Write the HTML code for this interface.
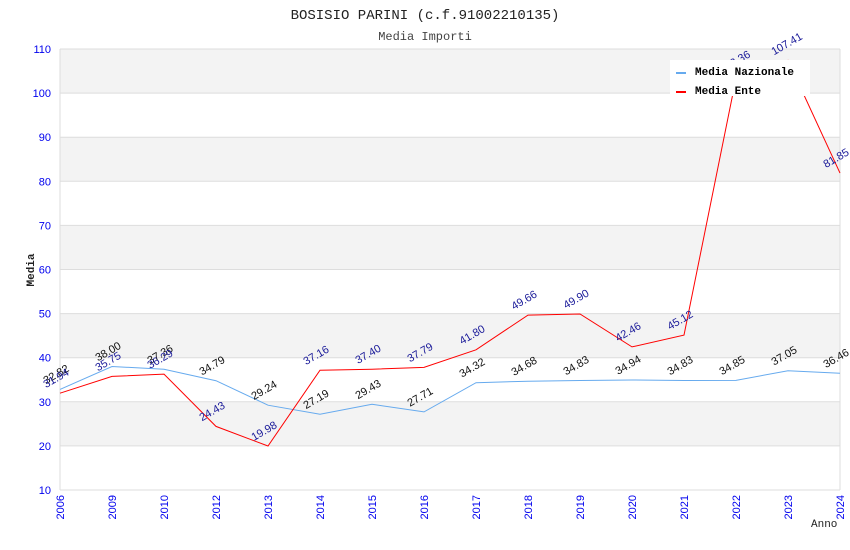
<!DOCTYPE html>
<html><head><meta charset="utf-8"><style>
body{margin:0;background:#fff}
svg{display:block}
</style></head><body>
<svg id="chart" width="850" height="550" xmlns="http://www.w3.org/2000/svg">
<rect width="850" height="550" fill="#fff"/>
<text x="425" y="19" text-anchor="middle" font-family="Liberation Mono, monospace" font-size="14" fill="#222">BOSISIO PARINI (c.f.91002210135)</text>
<text x="425" y="40" text-anchor="middle" font-family="Liberation Mono, monospace" font-size="12" fill="#444">Media Importi</text>
<g id="grid"></g>
<g id="axes"></g>
<g id="series"></g>
<g id="labels"></g>
<text transform="translate(34,270) rotate(-90)" text-anchor="middle" font-family="Liberation Mono, monospace" font-size="11" font-weight="bold" fill="#222">Media</text>
<text x="811" y="527" font-family="Liberation Mono, monospace" font-size="11" fill="#222">Anno</text>
<g>
<rect x="670" y="60" width="140" height="36" fill="#fff"/>
<g>
<line x1="676" y1="73" x2="686" y2="73" stroke="#66aaee" stroke-width="2"/>
<text x="695" y="75" font-family="Liberation Mono, monospace" font-size="11" font-weight="bold" fill="#000">Media Nazionale</text>
</g>
<g>
<line x1="676" y1="92" x2="686" y2="92" stroke="#ff0000" stroke-width="2"/>
<text x="695" y="94" font-family="Liberation Mono, monospace" font-size="11" font-weight="bold" fill="#000">Media Ente</text>
</g>
</g>
</svg>
<script>
const categories = ["2006","2009","2010","2012","2013","2014","2015","2016","2017","2018","2019","2020","2021","2022","2023","2024"];
const nazionale = [32.82,38.00,37.36,34.79,29.24,27.19,29.43,27.71,34.32,34.68,34.83,34.94,34.83,34.85,37.05,36.46];
const ente = [31.94,35.75,36.29,24.43,19.98,37.16,37.40,37.79,41.80,49.66,49.90,42.46,45.12,103.36,107.41,81.85];
const yTicks = [10,20,30,40,50,60,70,80,90,100,110];

const NS = "http://www.w3.org/2000/svg";
const X0 = 60, X1 = 840, Y0 = 490, Y1 = 49, YMIN = 10, YMAX = 110;
function xPos(i){ return X0 + i * (X1 - X0) / (categories.length - 1); }
function yPos(v){ return Y0 - (v - YMIN) * (Y0 - Y1) / (YMAX - YMIN); }
function mk(tag, attrs, parent){ const e = document.createElementNS(NS, tag); for (const k in attrs) e.setAttribute(k, attrs[k]); parent.appendChild(e); return e; }

const grid = document.getElementById('grid');
const axes = document.getElementById('axes');
for (let i = 0; i < yTicks.length - 1; i++) {
  if (i % 2 === 1) {
    const b = mk('rect', {x:X0, y:yPos(yTicks[i+1]), width:X1-X0, height:yPos(yTicks[i])-yPos(yTicks[i+1]), fill:'#f3f3f3'}, grid);
    
    
  }
}
yTicks.forEach(t => {
  const l = mk('line', {x1:X0, x2:X1, y1:yPos(t), y2:yPos(t), stroke:'#dddddd', 'stroke-width':1}, grid);
  
  
  const tx = mk('text', {x:X0-9, y:yPos(t)+4, 'text-anchor':'end', 'font-family':'Liberation Sans, sans-serif', 'font-size':11, fill:'#0000ee'}, axes);
  tx.textContent = t;
  
  
});
mk('line', {x1:X0, x2:X0, y1:Y1, y2:Y0, stroke:'#dddddd'}, axes);
mk('line', {x1:X1, x2:X1, y1:Y1, y2:Y0, stroke:'#dddddd'}, axes);
categories.forEach((c, i) => {
  const tx = mk('text', {transform:'translate(' + (xPos(i)+4) + ',' + (Y0+5) + ') rotate(-90)', 'text-anchor':'end', 'font-family':'Liberation Sans, sans-serif', 'font-size':11, fill:'#0000ee'}, axes);
  tx.textContent = c;
  
  
});

const series = document.getElementById('series');
const labels = document.getElementById('labels');
function drawSeries(vals, color, labelColor, name) {
  const pts = vals.map((v, i) => xPos(i).toFixed(1) + ',' + yPos(v).toFixed(1)).join(' ');
  const p = mk('polyline', {points:pts, fill:'none', stroke:color, 'stroke-width':1}, series);
  
  
  vals.forEach((v, i) => {
    const t = mk('text', {transform:'translate(' + (xPos(i)-14) + ',' + (yPos(v)-5) + ') rotate(-30)', 'font-family':'Liberation Sans, sans-serif', 'font-size':11, fill:labelColor}, labels);
    t.textContent = v.toFixed(2);
    
    
  });
}
drawSeries(nazionale, '#66aaee', '#111111', 'nazionale');
drawSeries(ente, '#ff0000', '#1a1a99', 'ente');
</script>
</body></html>
